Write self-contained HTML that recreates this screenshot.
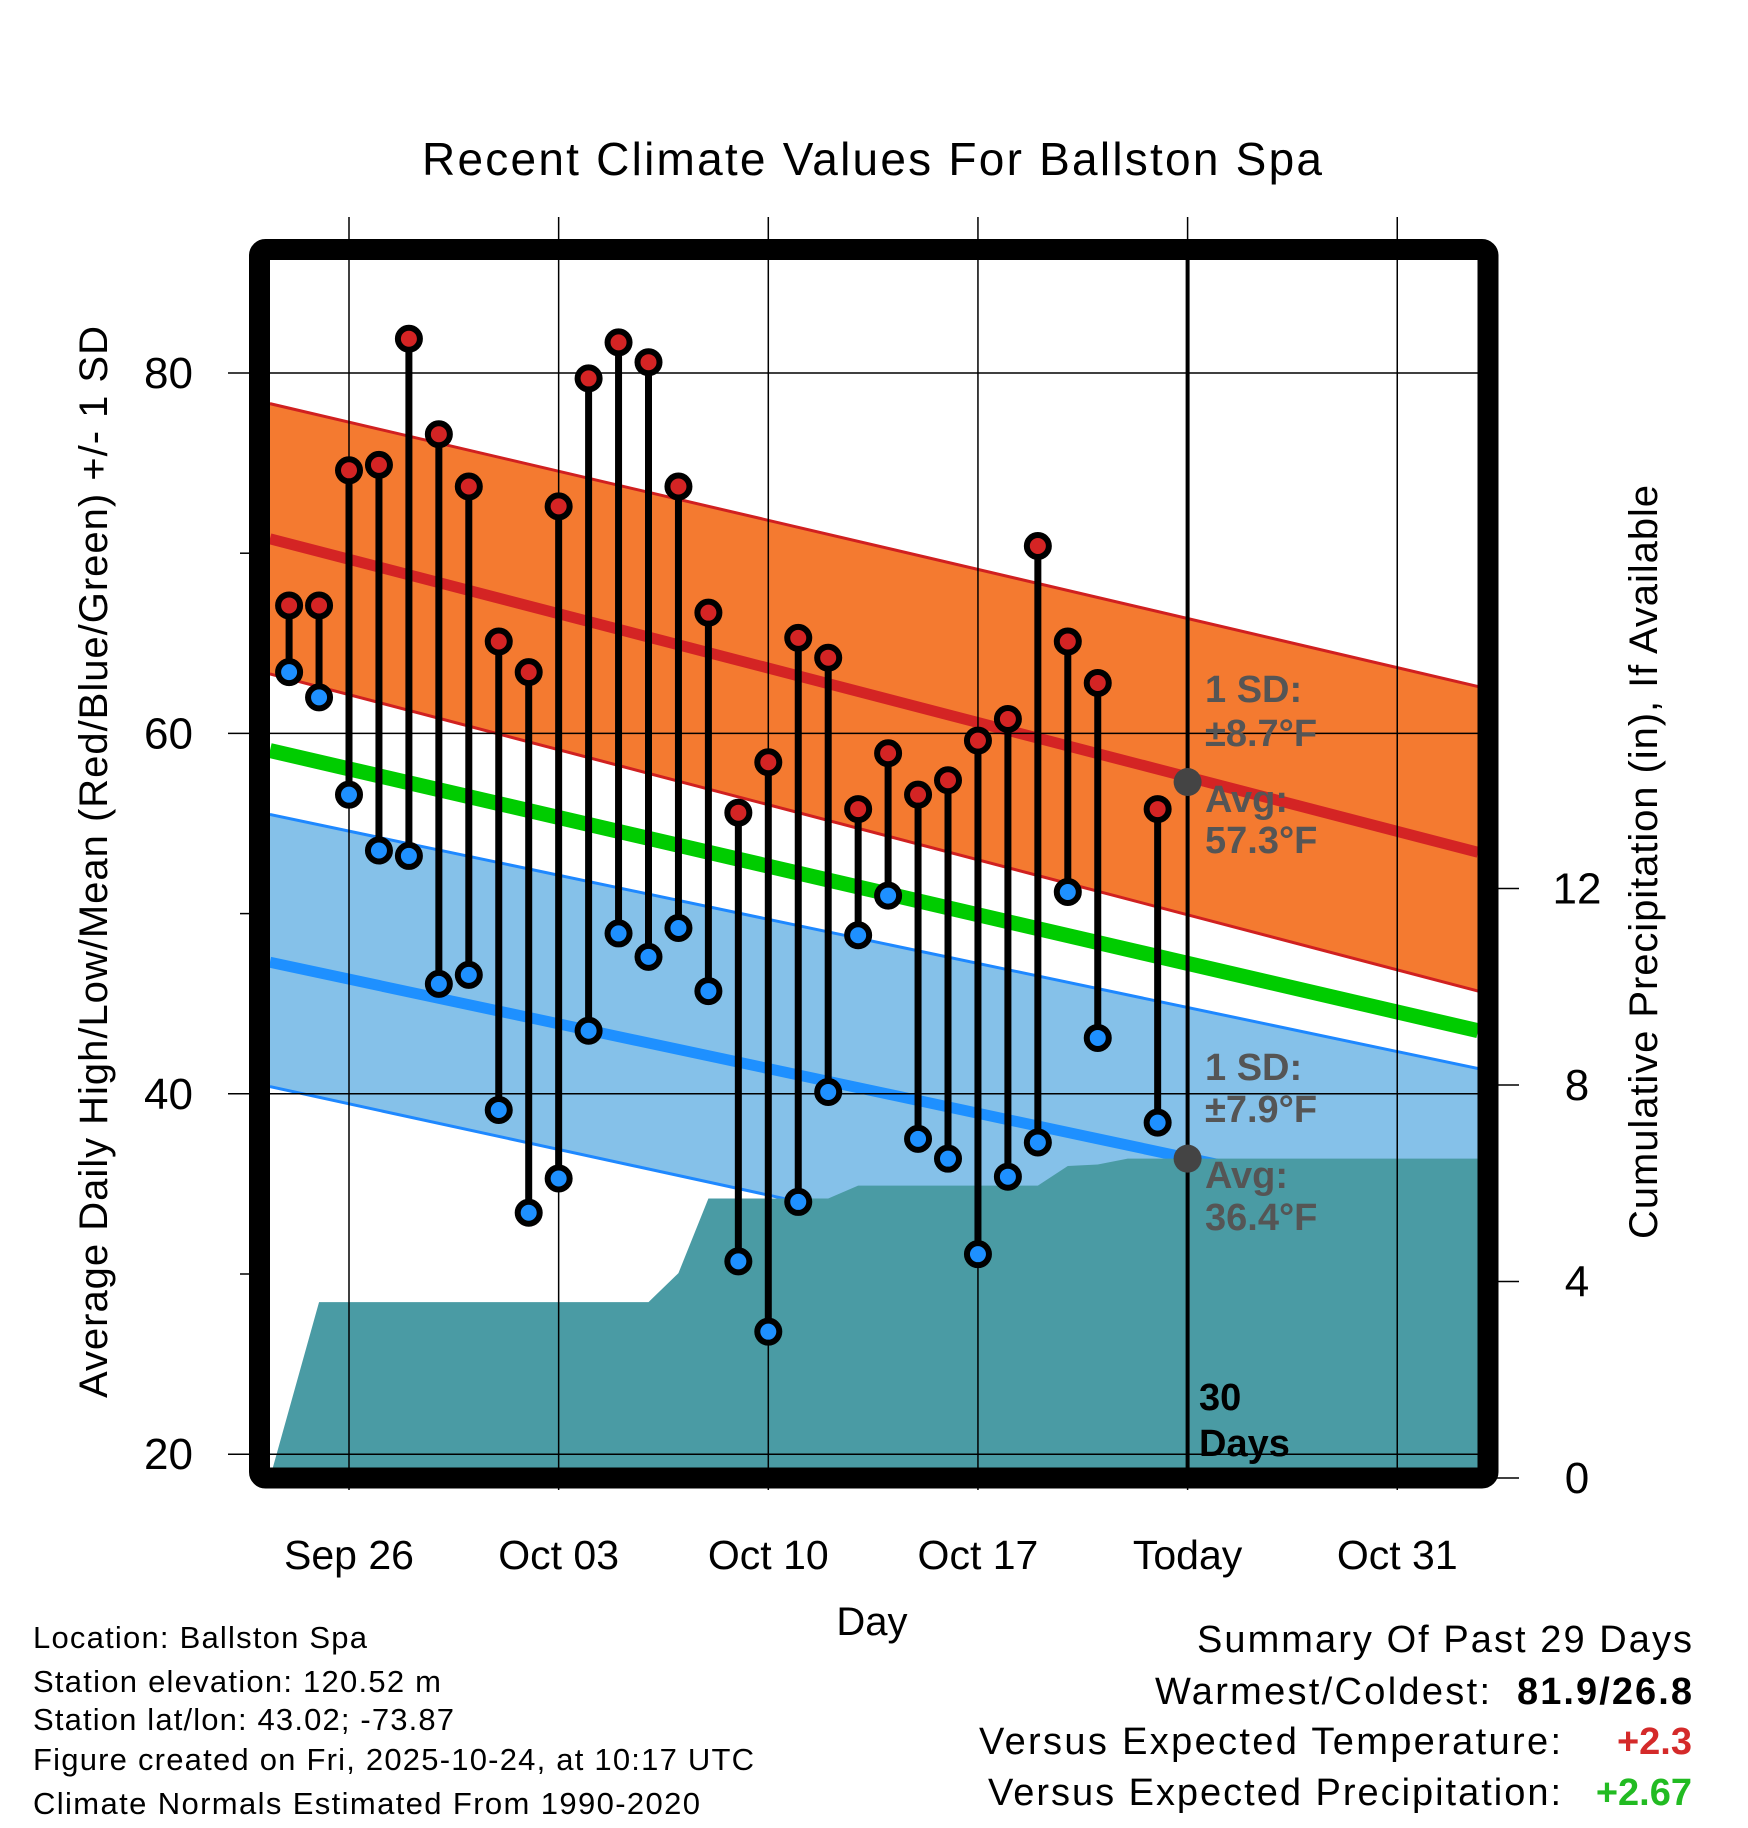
<!DOCTYPE html>
<html><head><meta charset="utf-8"><style>
html,body{margin:0;padding:0;background:#fff}
svg{display:block;font-family:"Liberation Sans",Arial,sans-serif}
</style></head><body>
<svg id="chart" width="1748" height="1828" viewBox="0 0 1748 1828">
<defs><clipPath id="plotClip"><rect x="270" y="260" width="1208" height="1208"/></clipPath></defs>
<text x="872" y="175" font-size="46" text-anchor="middle" textLength="900">Recent Climate Values For Ballston Spa</text>
<g id="plot" clip-path="url(#plotClip)"></g>
<g id="overlay"></g>
<text transform="translate(107,862) rotate(-90)" font-size="40" text-anchor="middle" textLength="1072">Average Daily High/Low/Mean (Red/Blue/Green) +/- 1 SD</text>
<text transform="translate(1657,862) rotate(-90)" font-size="40" text-anchor="middle" textLength="754">Cumulative Precipitation (in), If Available</text>
<text x="872" y="1635" font-size="40" text-anchor="middle">Day</text>
<g font-size="31">
<text x="33" y="1648" textLength="334">Location: Ballston Spa</text>
<text x="33" y="1692" textLength="408">Station elevation: 120.52 m</text>
<text x="33" y="1730" textLength="421">Station lat/lon: 43.02; -73.87</text>
<text x="33" y="1770" textLength="721">Figure created on Fri, 2025-10-24, at 10:17 UTC</text>
<text x="33" y="1814" textLength="667">Climate Normals Estimated From 1990-2020</text>
</g>
<g font-size="38" text-anchor="end">
<text x="1692" y="1652" textLength="495">Summary Of Past 29 Days</text>
<text x="1490" y="1704" textLength="335">Warmest/Coldest:</text>
<text x="1692" y="1704" font-weight="bold" textLength="175">81.9/26.8</text>
<text x="1561" y="1754" textLength="582">Versus Expected Temperature:</text>
<text x="1692" y="1754" font-weight="bold" fill="#d42a2a">+2.3</text>
<text x="1561" y="1805" textLength="573">Versus Expected Precipitation:</text>
<text x="1692" y="1805" font-weight="bold" fill="#22bb22">+2.67</text>
</g>
</svg>
<script>
// ---- data ----
const dayLabels = ["Sep 24","Sep 25","Sep 26","Sep 27","Sep 28","Sep 29","Sep 30","Oct 01","Oct 02","Oct 03","Oct 04","Oct 05","Oct 06","Oct 07","Oct 08","Oct 09","Oct 10","Oct 11","Oct 12","Oct 13","Oct 14","Oct 15","Oct 16","Oct 17","Oct 18","Oct 19","Oct 20","Oct 21","Oct 23"];
const dayIndex = [-2,-1,0,1,2,3,4,5,6,7,8,9,10,11,12,13,14,15,16,17,18,19,20,21,22,23,24,25,27];
const highs = [67.1,67.1,74.6,74.9,81.9,76.6,73.7,65.1,63.4,72.6,79.7,81.7,80.6,73.7,66.7,55.6,58.4,65.3,64.2,55.8,58.9,56.6,57.4,59.6,60.8,70.4,65.1,62.8,55.8];
const lows = [63.4,62.0,56.6,53.5,53.2,46.1,46.6,39.1,33.4,35.3,43.5,48.9,47.6,49.2,45.7,30.7,26.8,34.0,40.1,48.8,51.0,37.5,36.4,31.1,35.4,37.3,51.2,43.1,38.4];
const normDays = [-2.64,37.7];
const hiUpper = [78.3,62.6];
const hiAvg = [70.8,53.4];
const hiLower = [63.3,45.7];
const meanAvg = [59.05,43.5];
const loUpper = [55.5,41.4];
const loAvg = [47.3,33.0];
const loLower = [40.4,25.8];
const precipDays = [-2.64,-1,10,11,12,16,17,23,24,25,26,37.7];
const precipCum = [0,3.58,3.58,4.17,5.69,5.69,5.95,5.95,6.35,6.38,6.5,6.5];
const xTickDays = [0,7,14,21,28,35];
const xTickLabels = ["Sep 26","Oct 03","Oct 10","Oct 17","Today","Oct 31"];
const yTicks = [80,60,40,20];
const yMinor = [70,50,30];
const pTicks = [0,4,8,12];
const todayDay = 28, todayHi = 57.3, todayLo = 36.4;

// ---- scales ----
const xD = d => 349 + d*29.95;
const yT = t => 373 + (80-t)*18.02;
const yP = p => 1478 - p*49.13;
const NS="http://www.w3.org/2000/svg";
function mk(parent,tag,attrs){const e=document.createElementNS(NS,tag);for(const k in attrs)e.setAttribute(k,attrs[k]);parent.appendChild(e);return e;}
const plot=document.getElementById('plot'), ov=document.getElementById('overlay');
function band(up,lo,fill,name){
  const pts=[[xD(normDays[0]),yT(up[0])],[xD(normDays[1]),yT(up[1])],[xD(normDays[1]),yT(lo[1])],[xD(normDays[0]),yT(lo[0])]];
  const p=mk(plot,'polygon',{points:pts.map(a=>a.join(',')).join(' '),fill:fill});
  
  
  return p;
}
function nline(v,color,w,name){
  const l=mk(plot,'line',{x1:xD(normDays[0]),y1:yT(v[0]),x2:xD(normDays[1]),y2:yT(v[1]),stroke:color,'stroke-width':w});
  
  
}
band(hiUpper,hiLower,'#f47a30','high-sd-band');
nline(hiUpper,'#d02020',3,'high-upper-sd');
nline(hiLower,'#d02020',3,'high-lower-sd');
nline(hiAvg,'#d42424',11,'high-average-line');
band(loUpper,loLower,'#85c1e9','low-sd-band');
nline(loUpper,'#1e88ff',3,'low-upper-sd');
nline(loLower,'#1e88ff',3,'low-lower-sd');
nline(loAvg,'#1e90ff',11,'low-average-line');
nline(meanAvg,'#00cc00',15,'mean-line');
// precip area
{
  let pts=[[xD(precipDays[0]),yP(0)]];
  for(let i=0;i<precipDays.length;i++)pts.push([xD(precipDays[i]),yP(precipCum[i])]);
  pts.push([xD(precipDays[precipDays.length-1]),yP(0)]);
  const a=mk(plot,'polygon',{points:pts.map(p=>p.join(',')).join(' '),fill:'#4a9ba4'});
  
  
}
// gridlines
xTickDays.forEach((d,i)=>{
  const l=mk(ov,'line',{x1:xD(d),y1:217,x2:xD(d),y2:1490,stroke:'#000','stroke-width':1.5});
  
  
  const t=mk(ov,'text',{x:xD(d),y:1569,'font-size':41,'text-anchor':'middle'});
  t.textContent=xTickLabels[i];
  
  
});
yTicks.forEach(v=>{
  const l=mk(ov,'line',{x1:228,y1:yT(v),x2:1478,y2:yT(v),stroke:'#000','stroke-width':1.5});
  
  
  const t=mk(ov,'text',{x:193,y:yT(v)+15,'font-size':44,'text-anchor':'end'});
  t.textContent=v;
  
  
});
yMinor.forEach(v=>{
  const l=mk(ov,'line',{x1:240,y1:yT(v),x2:252,y2:yT(v),stroke:'#000','stroke-width':1.5});
  
  
});
pTicks.forEach(v=>{
  const l=mk(ov,'line',{x1:1490,y1:yP(v),x2:1519,y2:yP(v),stroke:'#000','stroke-width':1.5});
  
  
  const t=mk(ov,'text',{x:1577,y:yP(v)+15,'font-size':44,'text-anchor':'middle'});
  t.textContent=v;
  
  
});
// today line
{
  const l=mk(ov,'line',{x1:xD(todayDay),y1:260,x2:xD(todayDay),y2:1468,stroke:'#000','stroke-width':4});
  
  
}
// stems and dots
dayIndex.forEach((d,i)=>{
  const x=xD(d);
  const s=mk(ov,'line',{x1:x,y1:yT(highs[i]),x2:x,y2:yT(lows[i]),stroke:'#000','stroke-width':7});
  
  
});
dayIndex.forEach((d,i)=>{
  const x=xD(d);
  const h=mk(ov,'circle',{cx:x,cy:yT(highs[i]),r:11,fill:'#d42424',stroke:'#000','stroke-width':6});
  
  
  const lo=mk(ov,'circle',{cx:x,cy:yT(lows[i]),r:11,fill:'#1e90ff',stroke:'#000','stroke-width':6});
  
  
});
[todayHi,todayLo].forEach(v=>{
  const c=mk(ov,'circle',{cx:xD(todayDay),cy:yT(v),r:14,fill:'#444'});
  
  
});
// annotations
const notes=[["1 SD:",702],["±8.7°F",746],["Avg:",812],["57.3°F",853],["1 SD:",1080],["±7.9°F",1122],["Avg:",1188],["36.4°F",1230]];
notes.forEach(n=>{
  const t=mk(ov,'text',{x:1205,y:n[1],'font-size':38,'font-weight':'bold',fill:'#555'});
  t.textContent=n[0];
  
  
});
[["30",1410],["Days",1456]].forEach(n=>{
  const t=mk(ov,'text',{x:1199,y:n[1],'font-size':38,'font-weight':'bold',fill:'#000'});
  t.textContent=n[0];
  
  
});
// frame
{
  const f=mk(ov,'rect',{x:259.5,y:249.5,width:1228.5,height:1228.5,fill:'none',stroke:'#000','stroke-width':21,rx:6});
  
  
}
</script>
</body></html>
